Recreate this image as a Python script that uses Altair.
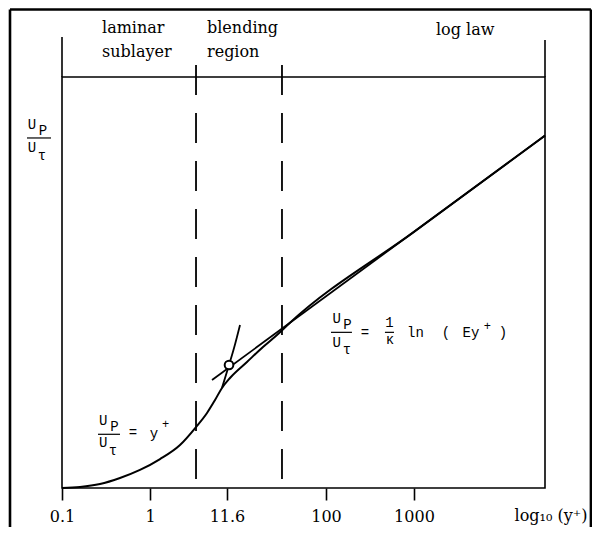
import altair as alt
import pandas as pd

# x: position along the drawing's log10(y+) axis (decades), y: U_P / U_tau
tick_pos = [-1, 0, 0.875, 2, 3]
tick_labels = ["0.1", "1", "11.6", "100", "1000"]

profile_x = [-1.0, -0.795, -0.568, -0.341, -0.114, 0.114, 0.341, 0.523, 0.648,
             0.739, 0.818, 0.909, 1.102, 1.284, 1.443, 1.591, 3.0, 4.489]
profile_y = [0.0, 0.09, 0.35, 0.88, 1.59, 2.55, 3.79, 5.37, 6.61,
             7.75, 8.81, 9.69, 11.10, 12.42, 13.48, 14.56, 22.56, 31.04]

laminar_x = [0.818, 0.898, 0.955, 1.023]
laminar_y = [8.81, 10.83, 12.33, 14.36]

loglaw_x = [0.705, 4.489]
loglaw_y = [9.51, 31.04]

circle_x = [0.898]
circle_y = [10.83]

region_bounds = [0.523, 1.5]
region_top = 37.26

x_min, x_max = -1.0, 4.489
y_min, y_max = 0.0, 36.2

region_text = ["laminar", "sublayer", "blending", "region", "log law"]
region_tx = [-0.545, -0.545, 0.648, 0.648, 3.25]
region_ty = [40.07, 37.96, 40.07, 37.96, 39.90]

mono_text = ["U", "P", "U", "τ",
             "U", "P", "U", "τ", "=", "y", "+",
             "U", "P", "U", "τ", "=", "1", "κ", "ln", "(", "Ey", "+", ")"]
mono_tx = [-1.341, -1.216, -1.341, -1.227,
           -0.531, -0.403, -0.531, -0.420, -0.193, 0.045, 0.176,
           2.122, 2.244, 2.122, 2.239, 2.443, 2.722, 2.727, 3.017, 3.364, 3.648, 3.835, 4.011]
mono_ty = [31.62, 31.09, 29.59, 28.89,
           5.55, 5.05, 3.61, 2.91, 4.45, 4.40, 5.28,
           14.53, 14.00, 12.44, 11.80, 13.30, 14.18, 12.68, 13.30, 13.30, 13.30, 13.96, 13.30]
mono_size = [14, 14, 14, 14,
             14, 14, 14, 14, 14, 14, 12,
             14, 14, 14, 14, 14, 14, 14, 14, 14, 14, 12, 14]

bar_x = [-1.398, -0.591, 2.057, 2.670]
bar_x2 = [-1.125, -0.341, 2.295, 2.773]
bar_y = [30.83, 4.73, 13.71, 13.71]

frame_left, frame_right = -1.591, 5.011
frame_top, frame_bottom = 42.15, -3.6
left_ext_top, right_ext_top = 39.72, 39.46

axis_title = "log₁₀ (y⁺)"
axis_title_x, axis_title_y = 4.557, -2.9

X_SCALE = alt.Scale(domain=[x_min, x_max], nice=False, zero=False)
Y_SCALE = alt.Scale(domain=[y_min, y_max], nice=False, zero=False)

expr = "''"
for p, l in reversed(list(zip(tick_pos, tick_labels))):
    expr = f"(datum.value == {p}) ? '{l}' : ({expr})"

x_axis = alt.Axis(values=tick_pos, labelExpr=expr, title=None, domain=False, grid=False,
                  ticks=True, tickSize=12, tickWidth=1.6, tickColor="black",
                  labelFont="DejaVu Serif", labelFontSize=16, labelColor="black",
                  labelPadding=8, labelFlush=False, labelOverlap=False)


def X(f="x"):
    return alt.X(f"{f}:Q", scale=X_SCALE, axis=x_axis)


def Y(f="y"):
    return alt.Y(f"{f}:Q", scale=Y_SCALE, axis=None)


def X2(f="x2"):
    return alt.X2(f"{f}:Q")


def Y2(f="y2"):
    return alt.Y2(f"{f}:Q")


profile = alt.Chart(pd.DataFrame({"x": profile_x, "y": profile_y})).mark_line(
    color="black", strokeWidth=2, interpolate="monotone").encode(x=X(), y=Y())
laminar = alt.Chart(pd.DataFrame({"x": laminar_x, "y": laminar_y})).mark_line(
    color="black", strokeWidth=1.8, interpolate="monotone").encode(x=X(), y=Y())
loglaw = alt.Chart(pd.DataFrame({"x": loglaw_x, "y": loglaw_y})).mark_line(
    color="black", strokeWidth=1.8).encode(x=X(), y=Y())
circle = alt.Chart(pd.DataFrame({"x": circle_x, "y": circle_y})).mark_point(
    shape="circle", filled=True, fill="white", stroke="black", strokeWidth=2,
    size=75, opacity=1).encode(x=X(), y=Y())

dashed = alt.Chart(pd.DataFrame({"x": region_bounds, "y": [region_top] * 2,
                                 "y2": [y_min] * 2})).mark_rule(
    color="black", strokeWidth=1.8, strokeDash=[30, 18]).encode(x=X(), y=Y(), y2=Y2())

ext = alt.Chart(pd.DataFrame({"x": [x_min, x_max], "y": [left_ext_top, right_ext_top],
                              "y2": [y_max, y_max]})).mark_rule(
    color="black", strokeWidth=1.6).encode(x=X(), y=Y(), y2=Y2())

frame_v = alt.Chart(pd.DataFrame({"x": [frame_left, frame_right], "y": [frame_top] * 2,
                                  "y2": [frame_bottom] * 2})).mark_rule(
    color="black", strokeWidth=2.6).encode(x=X(), y=Y(), y2=Y2())
frame_h = alt.Chart(pd.DataFrame({"x": [frame_left], "x2": [frame_right],
                                  "y": [frame_top]})).mark_rule(
    color="black", strokeWidth=2.6).encode(x=X(), x2=X2(), y=Y())

bars = alt.Chart(pd.DataFrame({"x": bar_x, "x2": bar_x2, "y": bar_y})).mark_rule(
    color="black", strokeWidth=1.2).encode(x=X(), x2=X2(), y=Y())

regions = alt.Chart(pd.DataFrame({"x": region_tx, "y": region_ty, "t": region_text})).mark_text(
    font="DejaVu Serif", fontSize=16, align="left", baseline="alphabetic", color="black"
).encode(x=X(), y=Y(), text="t:N")

mono = alt.Chart(pd.DataFrame({"x": mono_tx, "y": mono_ty, "t": mono_text, "s": mono_size})).mark_text(
    font="Liberation Mono", align="center", baseline="alphabetic", color="black"
).encode(x=X(), y=Y(), text="t:N", size=alt.Size("s:Q", scale=None, legend=None))

axlabel = alt.Chart(pd.DataFrame({"x": [axis_title_x], "y": [axis_title_y], "t": [axis_title]})).mark_text(
    font="DejaVu Serif", fontSize=16, align="center", baseline="alphabetic", color="black"
).encode(x=X(), y=Y(), text="t:N")

chart = alt.layer(frame_v, frame_h, ext, dashed, profile, laminar, loglaw, circle,
                  bars, regions, mono, axlabel).properties(
    width=483, height=411, autosize="none",
    padding={"left": 54, "top": 69, "right": 47, "bottom": 39},
    background="white",
).configure_view(stroke="black", strokeWidth=1.6)

chart.save("out.html", embed_options={"renderer": "svg", "actions": False})
